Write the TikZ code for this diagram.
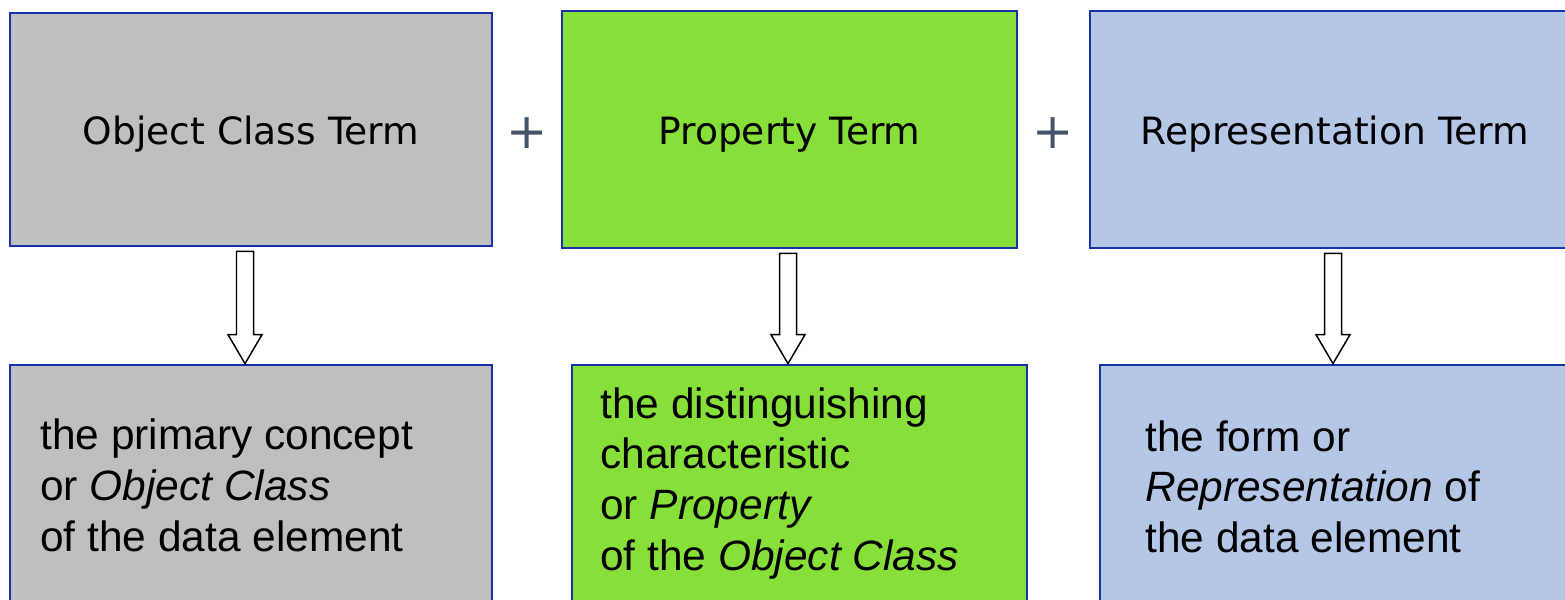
\documentclass[tikz,border=0pt]{standalone}
\usepackage{fontspec}
\setmainfont{Liberation Sans}
\newfontfamily\termfont{DejaVu Sans}
\usetikzlibrary{calc}

\definecolor{boxblue}{HTML}{1833AA}
\definecolor{termgray}{HTML}{BFBFBF}
\definecolor{termgreen}{HTML}{87E03A}
\definecolor{termblue}{HTML}{B4C7E7}
\definecolor{plusgray}{HTML}{44546A}

% hollow block arrow from #1 down to #2, on the vertical line x = #3
\newcommand{\termarrow}[3]{%
  \draw[hollow] ($(#3,0 |- #1.south)+(-8.5,4)$) -- ($(#3,0 |- #1.south)+(8.5,4)$)
    -- ($(#3,0 |- #2.north)+(8.5,-29)$) -- ($(#3,0 |- #2.north)+(17,-29)$)
    -- (#3,0 |- #2.north) -- ($(#3,0 |- #2.north)+(-17,-29)$)
    -- ($(#3,0 |- #2.north)+(-8.5,-29)$) -- cycle;}

\begin{document}
\begin{tikzpicture}[x=0.02cm,y=-0.02cm,
  termbox/.style={draw=boxblue,line width=1.6pt,inner sep=0pt,text height=22.5pt,text depth=5pt,font=\termfont\fontsize{21.4pt}{25pt}\selectfont},
  desc/.style={align=left,inner sep=0pt,anchor=north west,font=\fontsize{24.15pt}{28.9pt}\selectfont},
  plus/.style={text=plusgray,inner sep=0pt,font=\termfont\fontsize{28pt}{30pt}\selectfont},
  hollow/.style={draw=black,fill=white,line width=0.85pt,line join=miter}]
\useasboundingbox (0,0) rectangle (1565,599);
\clip (0,0) rectangle (1565,599);

% top row: the three terms
\node[termbox,fill=termgray,minimum width=9.64cm,minimum height=4.66cm] (objclass) at (251,129.5) {Object Class Term};
\node[termbox,fill=termgreen,minimum width=9.1cm,minimum height=4.74cm] (property) at (789.5,129.5) {Property Term};
\node[termbox,fill=termblue,minimum width=9.8cm,minimum height=4.74cm] (reprterm) at (1335,129.5) {Representation Term};

\node[plus] (plusa) at (527,133) {+};
\node[plus] (plusb) at (1053,133) {+};

% bottom row: what each term means
\node[termbox,fill=termgray,minimum width=9.64cm,minimum height=5.1cm] (objdesc) at (251,492.5) {};
\node[termbox,fill=termgreen,minimum width=9.1cm,minimum height=5.1cm] (propdesc) at (799.5,492.5) {};
\node[termbox,fill=termblue,minimum width=9.8cm,minimum height=5.1cm] (reprdesc) at (1345,492.5) {};

\node[desc] (objtext) at (40,418.5) {the primary concept\\or \textit{Object Class}\\of the data element};
\node[desc] (proptext) at (600,387) {the distinguishing\\characteristic\\or \textit{Property}\\of the \textit{Object Class}};
\node[desc] (reprtext) at (1145,420) {the form or\\\textit{Representation} of\\the data element};

\termarrow{objclass}{objdesc}{245}
\termarrow{property}{propdesc}{788}
\termarrow{reprterm}{reprdesc}{1333}
\end{tikzpicture}
\end{document}
